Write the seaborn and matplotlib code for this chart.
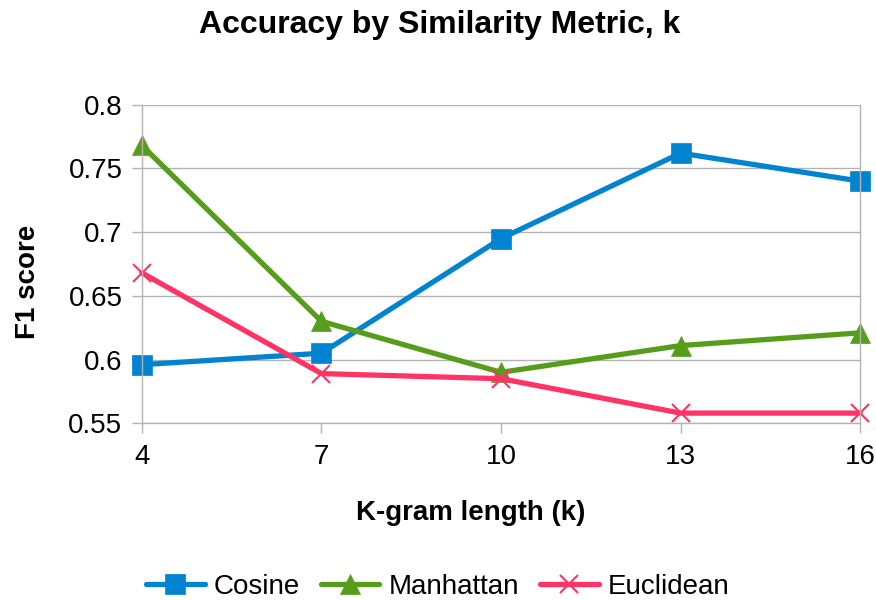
import pandas as pd
import matplotlib
matplotlib.use("Agg")
import matplotlib.pyplot as plt
import seaborn as sns

k_values = [4, 7, 10, 13, 16]
cosine = [0.596, 0.605, 0.695, 0.762, 0.740]
manhattan = [0.768, 0.630, 0.590, 0.611, 0.621]
euclidean = [0.668, 0.589, 0.585, 0.558, 0.558]
metrics = ["Cosine", "Manhattan", "Euclidean"]
y_ticks = [0.55, 0.6, 0.65, 0.7, 0.75, 0.8]
y_tick_labels = ["0.55", "0.6", "0.65", "0.7", "0.75", "0.8"]

df = pd.DataFrame({
    "k": k_values * 3,
    "F1": cosine + manhattan + euclidean,
    "Metric": ["Cosine"] * 5 + ["Manhattan"] * 5 + ["Euclidean"] * 5,
})

sns.set_style("white")
plt.rcParams["font.family"] = ["Liberation Sans", "DejaVu Sans"]
plt.rcParams["text.color"] = "black"
plt.rcParams["axes.labelcolor"] = "black"

colors = {"Cosine": "#0084D1", "Manhattan": "#579D1C", "Euclidean": "#FF3366"}
markers = {"Cosine": "s", "Manhattan": "^", "Euclidean": "x"}
msize = {"Cosine": 14, "Manhattan": 14, "Euclidean": 13}

fig = plt.figure(figsize=(8.76, 6), dpi=100)
ax = fig.add_axes([0.162, 0.2945, 0.82, 0.531])

# one call per metric since seaborn won't mix filled and line markers
for name in metrics:
    c = colors[name]
    sns.lineplot(data=df[df["Metric"] == name], x="k", y="F1", color=c,
                 marker=markers[name], markersize=msize[name],
                 markeredgecolor=c, markerfacecolor=c,
                 markeredgewidth=1.5 if name == "Euclidean" else 0.5,
                 linewidth=3.8, label=name, legend=False, clip_on=False,
                 ax=ax)

ax.set_xlim(4, 16)
ax.set_ylim(0.55, 0.8)
ax.set_xticks(k_values)
ax.set_xticklabels([str(k) for k in k_values])
ax.set_yticks(y_ticks)
ax.set_yticklabels(y_tick_labels)
ax.yaxis.grid(True, color="#b3b3b3", linewidth=1)
ax.set_axisbelow(True)
ax.tick_params(axis="both", labelsize=20, colors="#b3b3b3", labelcolor="black")
ax.tick_params(axis="y", length=7, width=1, pad=7, direction="out", left=True)
ax.tick_params(axis="x", length=7, width=1, pad=8, direction="out", bottom=True)
for side in ["left", "right", "bottom"]:
    ax.spines[side].set_color("#b3b3b3")
    ax.spines[side].set_linewidth(1)
ax.spines["top"].set_visible(False)

ax.set_xlabel("K-gram length (k)", fontsize=20, fontweight="bold")
ax.set_ylabel("F1 score", fontsize=20, fontweight="bold")
ax.xaxis.set_label_coords(0.458, -0.24)
ax.yaxis.set_label_coords(-0.141, 0.4435)

fig.suptitle("Accuracy by Similarity Metric, k", fontsize=23,
             fontweight="bold", x=0.502, y=0.983)

handles = ax.lines[:3]
fig.legend(handles, metrics, loc="center", bbox_to_anchor=(0.5, 0.022), ncol=3,
           frameon=False, fontsize=20, handlelength=2.1, handletextpad=0.34,
           columnspacing=0.75)

fig.savefig("out.png", dpi=100)
